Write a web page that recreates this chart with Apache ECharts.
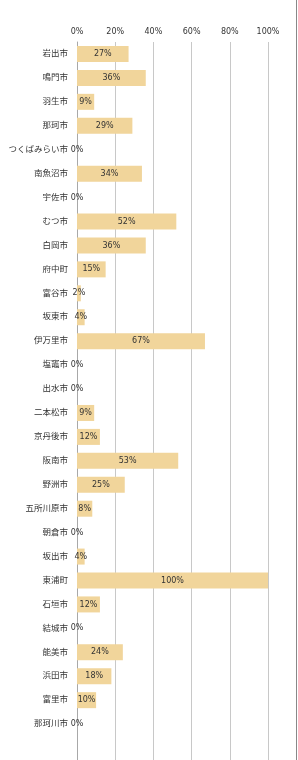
<!DOCTYPE html>
<html><head><meta charset="utf-8">
<script src="https://cdn.jsdelivr.net/npm/echarts@6/dist/echarts.min.js"></script>
<style>html,body{margin:0;padding:0;background:#fff}#c{width:298px;height:760px}</style>
</head><body><div id="c"></div>
<script>
const categories = ['岩出市','鳴門市','羽生市','那珂市','つくばみらい市','南魚沼市','宇佐市','むつ市','白岡市','府中町','富谷市','坂東市','伊万里市','塩竈市','出水市','二本松市','京丹後市','阪南市','野洲市','五所川原市','朝倉市','坂出市','東浦町','石垣市','結城市','能美市','浜田市','富里市','那珂川市',''];
const values = [27,36,9,29,0,34,0,52,36,15,2,4,67,0,0,9,12,53,25,8,0,4,100,12,0,24,18,10,0,null];
const xTicks = [0,20,40,60,80,100];

const font = "'DejaVu Sans','Noto Sans CJK JP',sans-serif";
const chart = echarts.init(document.getElementById('c'), null, {renderer:'canvas'});
chart.setOption({
  animation:false,
  grid:{left:77, top:42, width:191, height:720},
  xAxis:{type:'value', position:'top', min:xTicks[0], max:xTicks[xTicks.length-1], interval:20,
    axisLine:{show:false}, axisTick:{show:false},
    axisLabel:{formatter:'{value}%', fontSize:8, color:'#333', fontFamily:font, margin:6},
    splitLine:{show:true, lineStyle:{color:'#c8c8c8', width:1}}},
  yAxis:{type:'category', inverse:true, data:categories,
    axisLine:{show:true, lineStyle:{color:'#a8a8a8', width:1}}, axisTick:{show:false},
    axisLabel:{fontSize:8.5, color:'#333', fontFamily:font, margin:9}},
  series:[{type:'bar', data:values, barWidth:16,
    itemStyle:{color:'#f1d59b'},
    label:{show:true, position:'inside', formatter:'{c}%', fontSize:8, color:'#333', fontFamily:font}}],
  graphic:[{type:'line', shape:{x1:296.5,y1:0,x2:296.5,y2:760}, style:{stroke:'#888', lineWidth:1}}]
});
</script></body></html>
